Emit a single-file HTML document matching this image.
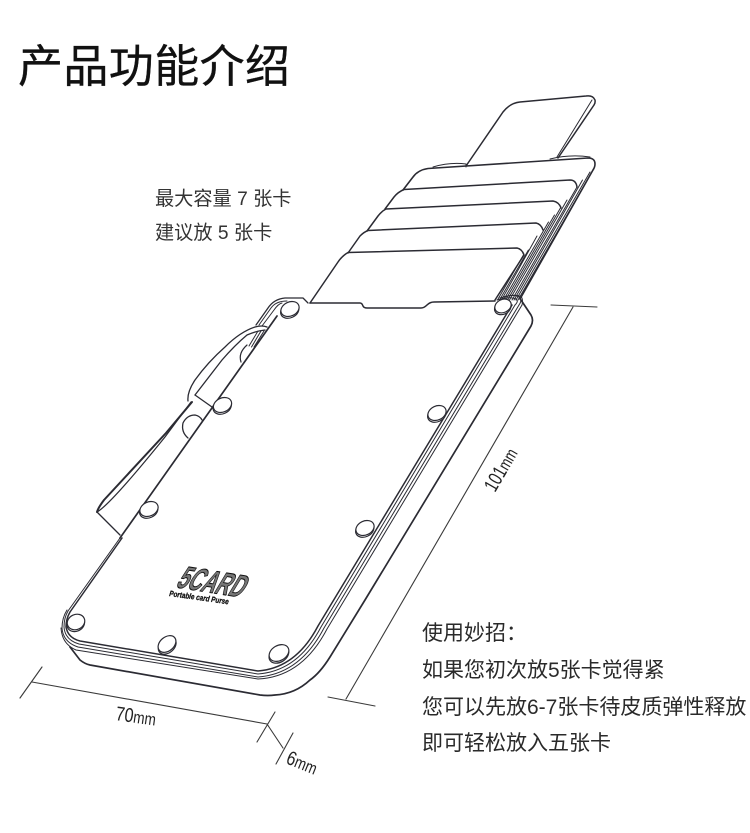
<!DOCTYPE html>
<html><head><meta charset="utf-8"><style>
html,body{margin:0;padding:0;background:#fff}
#p{position:relative;width:750px;height:833px;overflow:hidden;background:#fff}
.t{position:absolute;white-space:nowrap;font-family:"Liberation Sans","Noto Sans CJK SC",sans-serif;color:#2a2a2a;line-height:1}
svg{position:absolute;left:0;top:0}
</style></head><body><div id="p">
<svg width="750" height="833" viewBox="0 0 750 833" fill="none" stroke="#2b2b33" stroke-width="1.3" stroke-linejoin="round" stroke-linecap="round">
<!-- pulled card -->
<path d="M466 166L503 112Q510 103 520 102L586 96Q593 95 595 100Q595.500 103 594 105L558 158" stroke-width="1.500"/>
<path d="M557 157L592 100" stroke-width="1"/>
<!-- stacked cards -->
<path d="M433 167Q450 162 466 164L466 167" stroke-width="1"/>
<path d="M550 159Q570 154 590 157" stroke-width="1"/>
<path d="M403 190L413 177Q418 170 428 168.500L588 158Q595 158 595 164Q595 167 593 170L520 299" stroke-width="1.600"/>
<path d="M385 209L394 197Q398 192 404 189.500L570 180Q576 180 577 187" stroke-width="1.500"/>
<path d="M367 231L378 216Q382 211 386 209L553 201Q559 202 561 208" stroke-width="1.500"/>
<path d="M348 253L360 236Q364 232 368 230.500L536 223Q541 224 543 230" stroke-width="1.500"/>
<path d="M310 303L338 262Q342 256 348 252.500L517 248Q522 249 524 255L495 300" stroke-width="1.500"/>
<g stroke-width="1">
<path d="M497.500 300L524 254M499.500 300L528.400 250M501.500 300L537 236M503.500 300L548.500 222M505.500 300L554.500 215M507.500 300L561 207M509.500 300L567 200M512 300L577 187M514 300L582.500 180M516 300L590 172M518 300L594.700 167"/>
</g>
<path d="M310 303L360 303Q362 303 363 306Q364 308 367 308L421 308Q424 308 427 305Q430 302 434 302L495 301" stroke-width="1.500"/>
<!-- body back shell -->
<path d="M521 300L531 315Q534 320 531 326L365 600L330 657Q320 673 310 680Q295 694 275 695Q268 696 260 695L90 665Q85 664 80 660L70 647" stroke-width="1.700"/>
<!-- front plate layered edges -->
<path d="M512 305L318 626Q296 668 258 671L80 641Q68 638 66 627Q66 619 70 612L122 538" stroke-width="1.500"/>
<path d="M515 305L321 627Q298 671 258 674L79 644Q65 640 64 627Q64 618 68 611L120 538" stroke-width="1"/>
<path d="M519 305L324 628Q300 674 258 677L78 647Q63 642 62 628Q62 618 67 610" stroke-width="1"/>
<path d="M522 305L327 629Q302 677 258 679L76 650Q62 644 61 628" stroke-width="1"/>
<path d="M497 300Q510 296 516 299Q519 301 515 305" stroke-width="1"/>
<path d="M500 298Q516 293 520 298Q522 301 519 305" stroke-width="1"/>
<path d="M503 297Q519 293 522 298Q523 301 522 305" stroke-width="1"/>
<!-- plate left edge and top nesting -->
<path d="M120 538L277 316" stroke-width="1.700"/>
<path d="M308 303L303 298L285 298Q274 299 268 308L256 325" stroke-width="1.300"/>
<path d="M259 325L271 308Q276 301 287 301" stroke-width="1"/>
<path d="M262 326L274 310Q278 304 282 303" stroke-width="1"/>
<!-- clip -->
<path d="M97 512L120 535" stroke-width="1.300"/>
<path d="M97 512Q98 508 104 500L166 433L192 402" stroke-width="2"/>
<path d="M97 512Q110 505 165 437L191 402" stroke-width="1.200"/>
<path d="M195 395L212 407"/>
<path d="M188 401Q187 392 195 380Q208 362 225 347Q240 332 255 327Q262 325 267 327"/>
<path d="M195 395L222 360Q235 345 247 335Q256 331 265 330"/>
<path d="M241 362Q238 353 247 345" stroke-width="1.200"/>
<path d="M249 346L258 331M251.500 347L261 331M254 347L264 331" stroke-width="1"/>
<path d="M188 438Q181 432 183 423Q187 415 195 415Q200 416 202 420"/>
<!-- rivets -->
<g fill="#fff" stroke-width="1.200">
<g transform="translate(222.500 405) rotate(-25)"><ellipse cx="-1" cy="1.500" rx="9.500" ry="7"/><ellipse rx="9.500" ry="7"/></g>
<g transform="translate(149 509) rotate(-25)"><ellipse cx="-1" cy="1.500" rx="9.500" ry="7"/><ellipse rx="9.500" ry="7"/></g>
<g transform="translate(290 309) rotate(-25)"><ellipse cx="-1" cy="1.500" rx="9.500" ry="7"/><ellipse rx="9.500" ry="7"/></g>
<g transform="translate(437 413) rotate(-25)"><ellipse cx="-1" cy="1.500" rx="9.500" ry="7"/><ellipse rx="9.500" ry="7"/></g>
<g transform="translate(365 528) rotate(-25)"><ellipse cx="-1" cy="1.500" rx="9.500" ry="7"/><ellipse rx="9.500" ry="7"/></g>
<g transform="translate(503 306) rotate(-25)"><ellipse cx="-1" cy="1.500" rx="8.500" ry="6.500"/><ellipse rx="8.500" ry="6.500"/></g>
<g transform="translate(76 622) rotate(-25)"><ellipse cx="-1" cy="1.500" rx="9" ry="7.500"/><ellipse rx="9" ry="7.500"/></g>
<g transform="translate(167 644) rotate(-40)"><ellipse cx="-1" cy="1.500" rx="10" ry="7"/><ellipse rx="10" ry="7"/></g>
<g transform="translate(279 653) rotate(-30)"><ellipse cx="-1" cy="1.500" rx="10.500" ry="7.500"/><ellipse rx="10.500" ry="7.500"/></g>
</g>
<!-- dimension lines -->
<g stroke="#3a3a3a" stroke-width="1.100">
<path d="M551 305L597 307M573 307L346 699M328 697L375 706"/>
<path d="M42 667L20 698M32 682L267 724M275 712L257 742M267 724L283 748M293 733L276 764"/>
</g>
<g font-family="Liberation Sans, sans-serif" fill="#222" stroke="none">
<text transform="translate(115 720) rotate(8) scale(.8 1)" font-size="20">70<tspan font-size="17">mm</tspan></text>
<text transform="translate(285 763) rotate(22) scale(.8 1)" font-size="20">6<tspan font-size="17">mm</tspan></text>
<text transform="translate(495 493) rotate(-60) scale(.75 1)" font-size="20">101<tspan font-size="17">mm</tspan></text>
<text transform="translate(175 587) rotate(9) skewX(-22) scale(.6 1)" font-size="32" font-weight="700" fill="#777" stroke="#111" stroke-width="1">5CARD</text>
<text transform="translate(169 596) rotate(8)" font-size="8" font-style="italic" font-weight="700" fill="#111" stroke="#111" stroke-width=".3" textLength="60" lengthAdjust="spacingAndGlyphs">Portable card Purse</text>
</g>
</svg>
<div class="t" style="left:18px;top:44px;font-size:45px;letter-spacing:.4px;color:#111;-webkit-text-stroke:.35px #111">产品功能介绍</div>
<div class="t" style="left:155px;top:190px;font-size:19.200px;color:#333">最大容量 7 张卡</div>
<div class="t" style="left:155px;top:224px;font-size:19.200px;color:#333">建议放 5 张卡</div>
<div class="t" style="left:422px;top:623px;font-size:21px">使用妙招：</div>
<div class="t" style="left:422px;top:660px;font-size:21px">如果您初次放5张卡觉得紧</div>
<div class="t" style="left:422px;top:697px;font-size:21px">您可以先放6-7张卡待皮质弹性释放</div>
<div class="t" style="left:422px;top:733px;font-size:21px">即可轻松放入五张卡</div>
</div></body></html>
